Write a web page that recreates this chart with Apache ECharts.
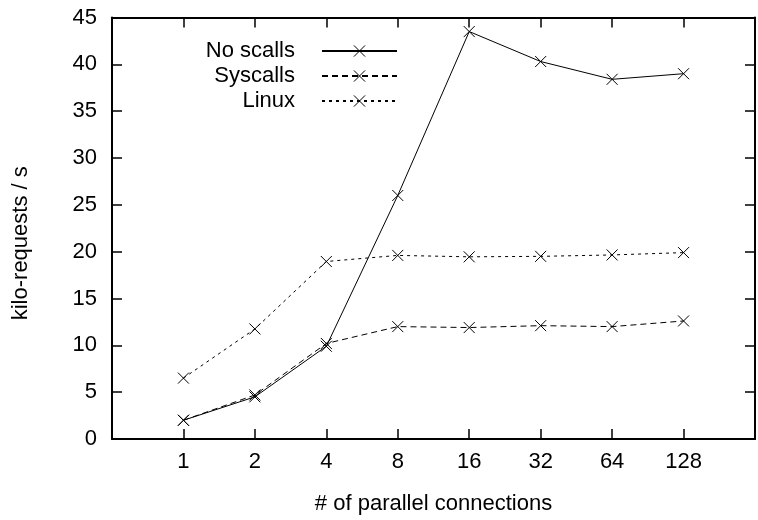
<!DOCTYPE html>
<html>
<head>
<meta charset="utf-8">
<script src="https://cdn.jsdelivr.net/npm/echarts@6/dist/echarts.min.js"></script>
<style>html,body{margin:0;padding:0;background:#fff}#c{width:758px;height:520px}</style>
</head>
<body>
<div id="c"></div>
<script>
const categories = ['1', '2', '4', '8', '16', '32', '64', '128'];
const noScalls = [2.0, 4.5, 9.9, 26.0, 43.5, 40.3, 38.4, 39.0];
const syscalls = [2.0, 4.7, 10.2, 12.0, 11.9, 12.1, 12.0, 12.6];
const linux = [6.5, 11.75, 18.95, 19.6, 19.45, 19.5, 19.65, 19.9];
const yTicks = [0, 5, 10, 15, 20, 25, 30, 35, 40, 45];

const FONT = 'Liberation Sans, Helvetica, Arial, sans-serif';
const FS = 22;
const CROSS = 'path://M0,0L10,10M10,0L0,10';

function pts(arr) { return arr.map((v, i) => [i + 1, v]); }
function mk(name, arr, type) {
  return {
    name: name, type: 'line', data: pts(arr),
    symbol: CROSS, symbolSize: 11,
    itemStyle: { color: '#000', borderColor: '#000', borderWidth: 1 },
    lineStyle: { color: '#000', width: 1, type: type },
    emphasis: { disabled: true }, animation: false
  };
}
const chart = echarts.init(document.getElementById('c'), null, { renderer: 'canvas' });
const tickAxis = {
  axisLine: { show: true, onZero: false, lineStyle: { color: '#000', width: 2 } },
  axisTick: { show: true, inside: true, length: 10, lineStyle: { color: '#000', width: 1.5 } },
  splitLine: { show: false }
};
chart.setOption({
  animation: false,
  backgroundColor: '#fff',
  textStyle: { fontFamily: FONT },
  grid: { left: 112, right: 1, top: 17.5, bottom: 79.5, containLabel: false },
  legend: {
    orient: 'vertical', align: 'right', right: 360, top: 40, padding: 0,
    itemWidth: 75, itemHeight: 14, itemGap: 3,
    itemStyle: { borderWidth: 1 },
    textStyle: { fontSize: FS, color: '#000', fontFamily: FONT, padding: [0, 22, 0, 0] },
    data: ['No scalls', 'Syscalls', 'Linux'],
    selectedMode: false
  },
  xAxis: [
    Object.assign({
      type: 'value', min: 0, max: 9, interval: 1, position: 'bottom',
      name: '# of parallel connections', nameLocation: 'middle', nameGap: 54,
      nameTextStyle: { fontSize: FS, color: '#000', fontFamily: FONT },
      axisLabel: {
        fontSize: FS, color: '#000', fontFamily: FONT, margin: 12,
        formatter: v => (v >= 1 && v <= categories.length) ? categories[v - 1] : ''
      }
    }, tickAxis),
    Object.assign({
      type: 'value', min: 0, max: 9, interval: 1, position: 'top',
      axisLabel: { show: false }
    }, tickAxis)
  ],
  yAxis: [
    Object.assign({
      type: 'value', min: yTicks[0], max: yTicks[yTicks.length - 1], interval: 5, position: 'left',
      name: 'kilo-requests / s', nameLocation: 'middle', nameGap: 80,
      nameTextStyle: { fontSize: FS, color: '#000', fontFamily: FONT, padding: [0, 30, 0, 0] },
      axisLabel: { fontSize: FS, color: '#000', fontFamily: FONT, margin: 15 }
    }, tickAxis),
    Object.assign({
      type: 'value', min: yTicks[0], max: yTicks[yTicks.length - 1], interval: 5, position: 'right',
      axisLabel: { show: false }
    }, tickAxis)
  ],
  series: [
    mk('No scalls', noScalls, 'solid'),
    mk('Syscalls', syscalls, [6, 4]),
    mk('Linux', linux, [3, 4])
  ]
});
</script>
</body>
</html>
